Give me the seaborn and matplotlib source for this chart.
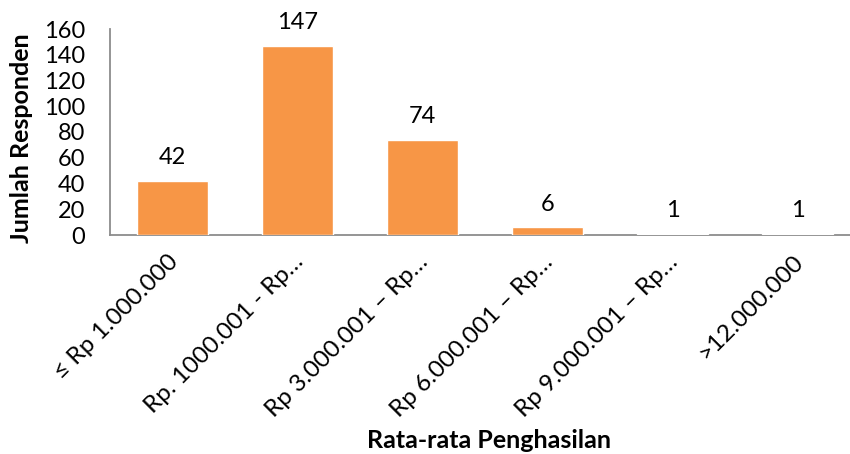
import matplotlib
matplotlib.use("Agg")
import matplotlib.pyplot as plt
import matplotlib.transforms as mtransforms
import seaborn as sns
import pandas as pd

# Income brackets and respondent counts
categories = [
    "≤ Rp 1.000.000",
    "Rp. 1000.001 - Rp…",
    "Rp 3.000.001 – Rp…",
    "Rp 6.000.001 – Rp…",
    "Rp 9.000.001 – Rp…",
    ">12.000.000",
]
counts = [42, 147, 74, 6, 1, 1]
y_ticks = [0, 20, 40, 60, 80, 100, 120, 140, 160]

x_title = "Rata-rata Penghasilan"
y_title = "Jumlah Responden"

bar_color = "#F79646"
axis_color = "#8C8C8C"

sns.set_theme(style="white")
plt.rcParams["font.family"] = ["Lato", "DejaVu Sans"]

df = pd.DataFrame({"kategori": categories, "jumlah": counts})

W, H = 850, 454
fig = plt.figure(figsize=(W / 100, H / 100), dpi=100)
left_px, right_px, top_px, base_px = 110, 850, 29, 235
ax = fig.add_axes([left_px / W, 1 - base_px / H,
                   (right_px - left_px) / W, (base_px - top_px) / H])

sns.barplot(data=df, x="kategori", y="jumlah", color=bar_color,
            width=0.57, saturation=1, ax=ax)
# keep the very short bars visible over the baseline
for p in ax.patches:
    p.set_zorder(3)

ax.set_ylim(0, 160)
ax.set_yticks(y_ticks)
ax.set_xlim(-0.5, 5.42)

for b in ax.containers:
    ax.bar_label(b, labels=[str(v) for v in counts], padding=9,
                 fontsize=17, color="#000000")

for side in ("top", "right"):
    ax.spines[side].set_visible(False)
for side in ("left", "bottom"):
    ax.spines[side].set_color(axis_color)
    ax.spines[side].set_linewidth(1.3)

ax.tick_params(axis="both", length=0, colors="#000000")
ax.tick_params(axis="y", pad=18, labelsize=17)
ax.tick_params(axis="x", pad=17, labelsize=17.5)

shift = mtransforms.ScaledTranslation(2 / 100, 0, fig.dpi_scale_trans)
for lbl in ax.get_xticklabels():
    lbl.set_rotation(45)
    lbl.set_ha("right")
    lbl.set_va("center")
    lbl.set_rotation_mode("anchor")
    lbl.set_transform(lbl.get_transform() + shift)

ax.set_xlabel(x_title, fontsize=18, fontweight="bold", color="#000000")
ax.set_ylabel(y_title, fontsize=18, fontweight="bold", color="#000000")
ax.xaxis.set_label_coords(0.512, -0.94)
ax.yaxis.set_label_coords(-0.104, 0.47)

fig.savefig("out.png", dpi=100)
